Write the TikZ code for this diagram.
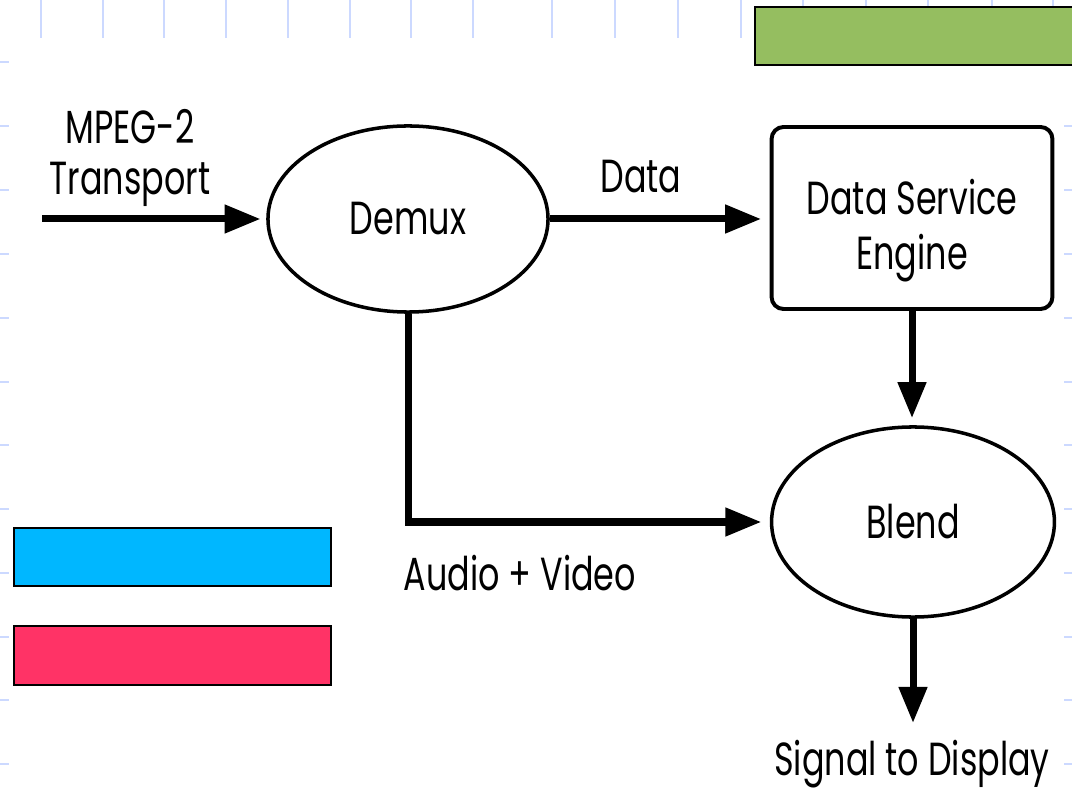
\documentclass[tikz,border=0pt]{standalone}
\usepackage{fontspec}
\setmainfont{Poppins}[FakeStretch=0.72]
\usetikzlibrary{positioning, arrows.meta, shapes.geometric}
\definecolor{gridblue}{RGB}{204,217,255}
\definecolor{verde}{RGB}{149,190,96}
\definecolor{azul}{RGB}{0,183,255}
\definecolor{rojo}{RGB}{255,51,102}
\tikzset{
    blob/.style={draw, ellipse, line width=2.5pt, inner sep=0pt, minimum width=7cm, minimum height=4.65cm},
    engine/.style={draw, rectangle, rounded corners=0.3cm, line width=2.8pt, minimum width=7.02cm, minimum height=4.55cm, align=center},
    lbl/.style={inner sep=0pt, anchor=base},
    flow/.style={-{Triangle[length=0.9cm, width=0.68cm]}, line width=0.175cm},
    gridtick/.style={gridblue, line width=1pt},
    bar/.style={draw=black, line width=1pt},
}

\begin{document}
\begin{tikzpicture}[x=0.025cm, y=-0.025cm, font=\fontsize{33}{36}\selectfont]
    \useasboundingbox (0,0) rectangle (1072,793);
    \clip (0,0) rectangle (1072,793);

    % slide grid
    \foreach \gx in {41,103,164,226,288,350,411,473,552,615,678,741,803,866,928,992,1053}
        \draw [gridtick] (\gx,0) -- (\gx,38);
    \foreach \gy in {62,126,190,254,318,382,445,509,573,637,700,764} {
        \draw [gridtick] (0,\gy) -- (9,\gy);
        \draw [gridtick] (1064,\gy) -- (1072,\gy);
    }

    \draw [bar, fill=verde] (755,7) rectangle (1076,65);
    \draw [bar, fill=azul] (14,528) rectangle (331,586);
    \draw [bar, fill=rojo] (14,626) rectangle (331,685);

    \node [blob] (demux) at (408,219) {Demux};
    \node [engine] (dse) at (912,218) {\rule{0pt}{43pt}Data Service\\[2.5pt]Engine};
    \node [blob, minimum width=7.07cm, minimum height=4.75cm] (blend) at (913,522) {Blend};

    \node [align=center] (mpeg) at (130,158) {MPEG-2\\Transport};
    \node [lbl] (data) at (641,193) {Data};
    \node [lbl] (av) at (520,590) {Audio + Video};
    \node [lbl] (signal) at (912,775) {Signal to Display};

    \coordinate (src) at (42,219);
    \coordinate (out) at (913,723);

    \draw [flow, shorten >=4pt] (src) -- (demux.west);
    \draw [flow, shorten >=6pt] (demux.east) -- (demux.east -| dse.west);
    \draw [flow, shorten >=6pt] (demux.south) |- (blend.west);
    \draw [flow, shorten >=5pt] (dse.south) -- (dse.south |- blend.north);
    \draw [flow] (blend.south) -- (out);
\end{tikzpicture}
\end{document}
